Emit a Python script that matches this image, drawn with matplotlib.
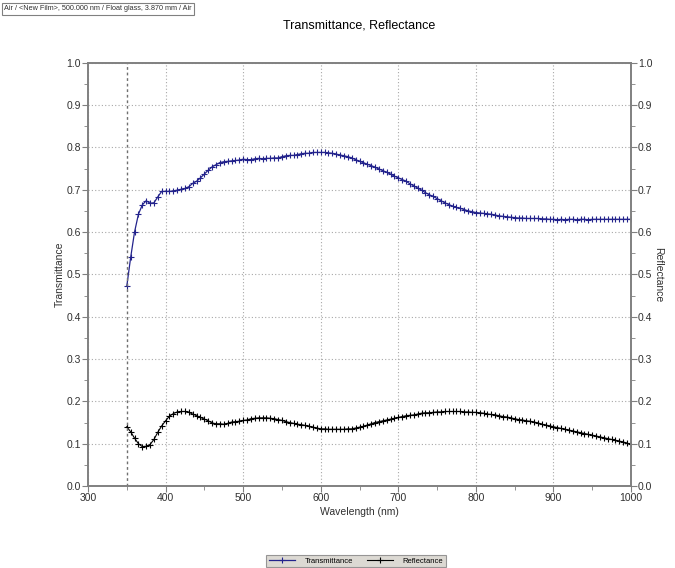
import numpy as np
import matplotlib
matplotlib.use("Agg")
import matplotlib.pyplot as plt
from matplotlib.ticker import MultipleLocator

plt.rcParams['font.family'] = ['Liberation Sans', 'DejaVu Sans']

# ---- data (5 nm steps) ----
wavelength = np.arange(350, 1001, 5)

transmittance = [
    0.472, 0.540, 0.600, 0.642, 0.664, 0.674, 0.668, 0.669, 0.683, 0.696,
    0.696, 0.696, 0.697, 0.699, 0.701, 0.703, 0.707, 0.715, 0.720, 0.728,
    0.737, 0.746, 0.754, 0.759, 0.764, 0.766, 0.767, 0.768, 0.769, 0.770,
    0.772, 0.771, 0.771, 0.773, 0.774, 0.773, 0.774, 0.774, 0.775, 0.775,
    0.778, 0.780, 0.781, 0.781, 0.783, 0.785, 0.786, 0.786, 0.788, 0.788,
    0.788, 0.788, 0.787, 0.786, 0.784, 0.782, 0.780, 0.778, 0.775, 0.771,
    0.767, 0.764, 0.760, 0.757, 0.753, 0.749, 0.745, 0.741, 0.737, 0.732,
    0.728, 0.724, 0.720, 0.714, 0.709, 0.704, 0.699, 0.693, 0.688, 0.684,
    0.679, 0.674, 0.669, 0.665, 0.661, 0.658, 0.656, 0.653, 0.650, 0.648,
    0.646, 0.645, 0.644, 0.643, 0.642, 0.640, 0.638, 0.637, 0.636, 0.635,
    0.634, 0.633, 0.633, 0.632, 0.632, 0.632, 0.632, 0.631, 0.631, 0.630,
    0.630, 0.629, 0.630, 0.629, 0.630, 0.630, 0.629, 0.630, 0.630, 0.629,
    0.630, 0.630, 0.630, 0.630, 0.630, 0.630, 0.630, 0.630, 0.630, 0.630,
    0.630,
]

reflectance = [
    0.140, 0.128, 0.113, 0.100, 0.093, 0.094, 0.098, 0.110, 0.127, 0.142,
    0.154, 0.165, 0.171, 0.175, 0.176, 0.176, 0.174, 0.170, 0.166, 0.162,
    0.158, 0.154, 0.149, 0.147, 0.147, 0.146, 0.148, 0.151, 0.152, 0.153,
    0.155, 0.156, 0.159, 0.160, 0.161, 0.161, 0.161, 0.160, 0.159, 0.157,
    0.155, 0.152, 0.150, 0.148, 0.146, 0.145, 0.143, 0.141, 0.139, 0.137,
    0.135, 0.135, 0.134, 0.134, 0.134, 0.134, 0.134, 0.135, 0.135, 0.137,
    0.139, 0.141, 0.144, 0.147, 0.150, 0.152, 0.154, 0.156, 0.158, 0.160,
    0.162, 0.164, 0.166, 0.167, 0.168, 0.170, 0.172, 0.173, 0.173, 0.174,
    0.175, 0.175, 0.176, 0.176, 0.176, 0.176, 0.176, 0.175, 0.175, 0.174,
    0.174, 0.173, 0.172, 0.170, 0.169, 0.168, 0.166, 0.164, 0.163, 0.161,
    0.159, 0.157, 0.156, 0.154, 0.153, 0.151, 0.149, 0.146, 0.144, 0.142,
    0.140, 0.138, 0.136, 0.134, 0.132, 0.130, 0.128, 0.126, 0.124, 0.122,
    0.120, 0.118, 0.116, 0.114, 0.112, 0.110, 0.108, 0.106, 0.104, 0.101,
    0.099,
]

header = "Air / <New Film>, 500.000 nm / Float glass, 3.870 mm / Air"
spine_col = "#808080"
text_col = "#303030"
t_col = "#23238c"

# ---- figure ----
W, H = 675, 568
fig = plt.figure(figsize=(W / 100, H / 100), dpi=100)
ax = fig.add_axes([88 / W, 1 - 486 / H, (631 - 88) / W, (486 - 62.7) / H])

ax.plot(wavelength, transmittance, "-", color=t_col, lw=0.9,
        marker="+", ms=4.5, mew=0.8, label="Transmittance")
ax.plot(wavelength, reflectance, "-", color="black", lw=0.8,
        marker="+", ms=4.5, mew=0.8, label="Reflectance")

ax.set_xlim(300, 1000)
ax.set_ylim(0, 1)
ax.xaxis.set_major_locator(MultipleLocator(100))
ax.xaxis.set_minor_locator(MultipleLocator(50))
ax.yaxis.set_major_locator(MultipleLocator(0.1))
ax.yaxis.set_minor_locator(MultipleLocator(0.05))
ax.yaxis.set_major_formatter(plt.FormatStrFormatter("%.1f"))

ax.grid(True, which="major", color="#a8a8a8", lw=0.8, ls=(0, (1, 2)))
ax.axvline(350, color="#707070", lw=1.0, ls=(0, (2, 2)))

# right axis repeats the same 0..1 scale for reflectance
ax2 = ax.twinx()
ax2.set_ylim(0, 1)
ax2.yaxis.set_major_locator(MultipleLocator(0.1))
ax2.yaxis.set_minor_locator(MultipleLocator(0.05))
ax2.yaxis.set_major_formatter(plt.FormatStrFormatter("%.1f"))

for a in (ax, ax2):
    for s in a.spines.values():
        s.set_color(spine_col)
        s.set_linewidth(1.2)
    a.tick_params(which="both", direction="out", color=spine_col,
                  labelsize=7.5, labelcolor=text_col, pad=1)
    a.tick_params(which="major", length=4)
    a.tick_params(which="minor", length=3)

ax.set_xlabel("Wavelength (nm)", fontsize=7.5, color=text_col, labelpad=3)
ax.set_ylabel("Transmittance", fontsize=7.5, color=text_col, labelpad=1)
ax2.set_ylabel("Reflectance", fontsize=7.5, color=text_col, rotation=-90,
               labelpad=8)

fig.text(359 / W, 1 - 25 / H, "Transmittance, Reflectance", ha="center",
         va="center", fontsize=9)
fig.text(4 / W, 1 - 9 / H, header, ha="left", va="center", fontsize=5.2,
         color=text_col,
         bbox=dict(boxstyle="square,pad=0.3", fc="white", ec="#808080", lw=0.8))

leg = fig.legend(loc="center", bbox_to_anchor=(356 / W, 1 - 561 / H), ncol=2,
                 fontsize=5.5, frameon=True, fancybox=False,
                 handlelength=3.5, columnspacing=1.8, borderpad=0.3,
                 handletextpad=1.2)
leg.get_frame().set_facecolor("#d4d0c8")
leg.get_frame().set_edgecolor("#808080")
leg.get_frame().set_linewidth(0.8)

fig.savefig("out.png", dpi=100)
